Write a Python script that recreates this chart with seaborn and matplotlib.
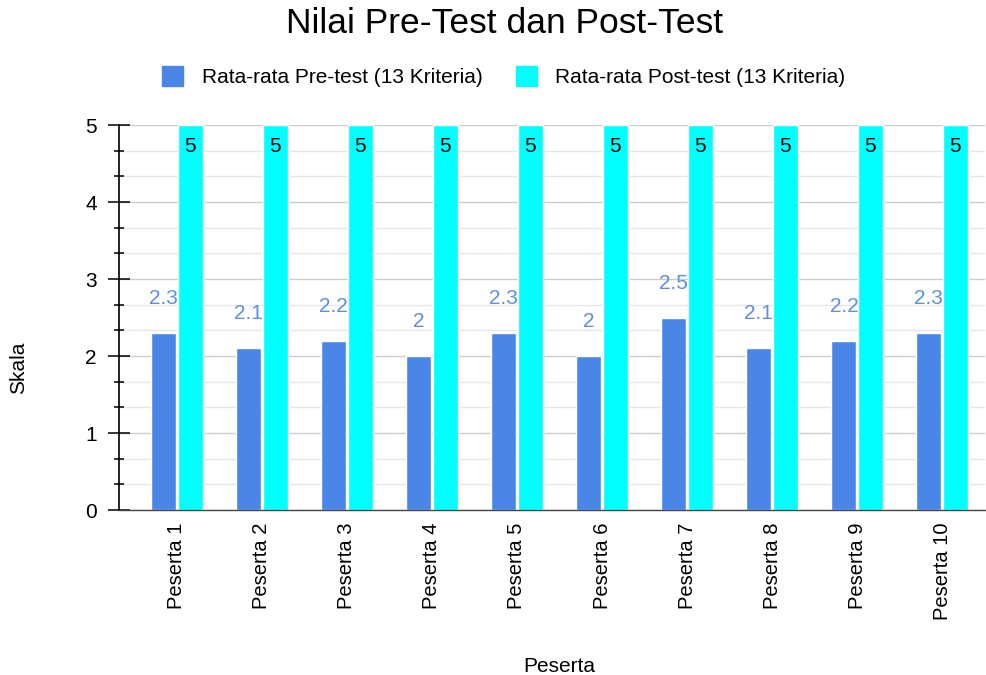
import pandas as pd
import numpy as np
import matplotlib.pyplot as plt
import seaborn as sns
from matplotlib.ticker import MultipleLocator
from matplotlib.patches import Patch

# Chart values
peserta = ["Peserta 1", "Peserta 2", "Peserta 3", "Peserta 4", "Peserta 5",
           "Peserta 6", "Peserta 7", "Peserta 8", "Peserta 9", "Peserta 10"]
pre_test = [2.3, 2.1, 2.2, 2.0, 2.3, 2.0, 2.5, 2.1, 2.2, 2.3]
post_test = [5, 5, 5, 5, 5, 5, 5, 5, 5, 5]
series_names = ["Rata-rata Pre-test (13 Kriteria)", "Rata-rata Post-test (13 Kriteria)"]
colors = ["#4a86e8", "#00ffff"]

df = pd.DataFrame({
    "Peserta": peserta * 2,
    "Skala": pre_test + post_test,
    "Seri": [series_names[0]] * len(peserta) + [series_names[1]] * len(peserta),
})

sns.set_style("white")
plt.rcParams['font.family'] = ['Liberation Sans', 'DejaVu Sans']
plt.rcParams['text.color'] = 'black'

fig = plt.figure(figsize=(9.86, 6.75), dpi=100)
ax = fig.add_axes([0.1207, 0.2444, 0.878, 0.5704])

sns.barplot(data=df, x="Peserta", y="Skala", hue="Seri", palette=colors,
            width=0.624, gap=0.058, saturation=1, ax=ax, legend=False)

ax.set_xlim(-0.68, 9.5)
ax.set_ylim(0, 5)
ax.yaxis.set_major_locator(MultipleLocator(1))
ax.yaxis.set_minor_locator(MultipleLocator(1 / 3))
ax.set_axisbelow(True)
ax.grid(axis="y", which="major", color="#cccccc", linewidth=1)
ax.grid(axis="y", which="minor", color="#e6e6e6", linewidth=1)

for s in ["top", "right"]:
    ax.spines[s].set_visible(False)
ax.spines["left"].set_color("black")
ax.spines["left"].set_linewidth(1.2)
ax.spines["bottom"].set_color("#444444")
ax.spines["bottom"].set_linewidth(1.0)

ax.tick_params(axis="y", which="major", left=True, direction="inout", length=16,
               width=1.1, color="black", labelsize=15, labelcolor="black", pad=8)
ax.tick_params(axis="y", which="minor", left=True, direction="inout", length=7.5,
               width=1.1, color="black")
ax.tick_params(axis="x", length=0, labelsize=14.5, labelcolor="black",
               labelrotation=90, pad=9)

# value labels
pre_cont, post_cont = ax.containers[0], ax.containers[1]
for p in post_cont:
    p.set_zorder(2)
lbl = ax.bar_label(pre_cont, labels=[f"{v:g}" for v in pre_test], padding=18,
                   color="#5b8fe6", fontsize=15)
for t in lbl:
    t.set_zorder(1.5)
ax.bar_label(post_cont, labels=[f"{v:g}" for v in post_test], padding=-22,
             color="black", fontsize=15, zorder=3)

ax.set_xlabel("Peserta", fontsize=15, color="black")
ax.set_ylabel("Skala", fontsize=15, color="black")
ax.xaxis.set_label_coords(0.508, -0.383)
ax.yaxis.set_label_coords(-0.105, 0.369)

fig.suptitle("Nilai Pre-Test dan Post-Test", fontsize=25.5, x=0.512, y=0.99,
             color="black")

handles = [Patch(facecolor=c, edgecolor=c) for c in colors]
fig.legend(handles, series_names, loc="center", bbox_to_anchor=(0.511, 0.886),
           ncol=2, frameon=False, fontsize=15, handlelength=1.0, handleheight=1.1,
           columnspacing=1.6, handletextpad=0.9)

fig.savefig("out.png", dpi=100)
